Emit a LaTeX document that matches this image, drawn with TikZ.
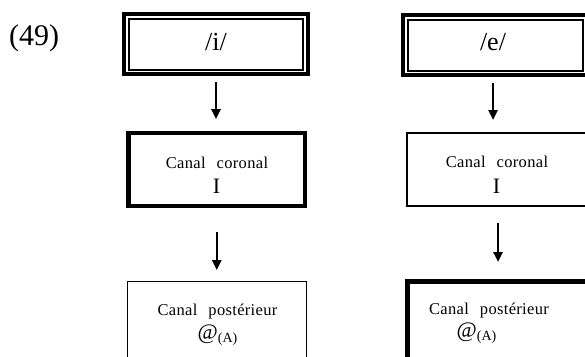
\documentclass[tikz,border=0pt]{standalone}
\usepackage{fontspec}
\setmainfont{Liberation Serif}
\usetikzlibrary{arrows.meta,calc}
\tikzset{
  box/.style={draw=black, rectangle, outer sep=0pt, inner sep=0pt},
  arr/.style={line width=2.4pt, -{Triangle[width=9pt,length=10pt]}},
  lab/.style={inner sep=0pt, anchor=base},
  small/.style={font=\fontsize{16.5}{18}\selectfont\addfontfeature{LetterSpace=2}},
  big/.style={font=\fontsize{22}{24}\selectfont},
}
\begin{document}
\begin{tikzpicture}[x=1pt,y=-1pt]
\useasboundingbox (0,0) rectangle (585,356);
\clip (0,0) rectangle (585,356);
% number
\node[lab, anchor=base west, font=\fontsize{30}{32}\selectfont] (num) at (9,45) {(49)};
% top boxes (double border)
\node[box, line width=4pt, minimum width=184pt, minimum height=60pt] (topL) at (216,44) {};
\draw[line width=1.8pt] ($(topL.north west)+(5,5)$) rectangle ($(topL.south east)+(-5,-4)$);
\node[lab, font=\fontsize{26}{28}\selectfont] (ti) at (216,50) {/i/};
\node[box, line width=4pt, minimum width=185pt, minimum height=60pt] (topR) at (495.5,45) {};
\draw[line width=1.8pt] ($(topR.north west)+(5,5)$) rectangle ($(topR.south east)+(-5,-4)$);
\node[lab, font=\fontsize{26}{28}\selectfont] (te) at (493,50) {/e/};
% middle boxes
\node[box, line width=4.5pt, minimum width=176.5pt, minimum height=73pt] (midL) at (216.75,169.5) {};
\node[lab, small] (mlA) at (217,168) {Canal\hspace{11pt}coronal};
\node[lab, big] (mlB) at (216.5,193) {I};
\node[box, line width=1.8pt, minimum width=183pt, minimum height=73pt] (midR) at (498.5,169.5) {};
\node[lab, small] (mrA) at (497,167) {Canal\hspace{11pt}coronal};
\node[lab, big] (mrB) at (496.5,193) {I};
% bottom boxes
\node[box, line width=1pt, minimum width=178.5pt, minimum height=88.5pt] (botL) at (216.75,325.75) {};
\node[lab, small] (blA) at (217.5,315) {Canal\hspace{11pt}postérieur};
\node[lab, big] (blB) at (217.5,339) {@\raisebox{-3pt}{\fontsize{14}{16}\selectfont(A)}};
\node[box, line width=5pt, minimum width=187.5pt, minimum height=89pt] (botR) at (501.25,325.5) {};
\node[lab, small] (brA) at (489,314) {Canal\hspace{11pt}postérieur};
\node[lab, big] (brB) at (476.5,337) {@\raisebox{-3pt}{\fontsize{14}{16}\selectfont(A)}};
% arrows
\draw[arr] ([yshift=-8pt]topL.south) -- ([yshift=14pt]topL.south |- midL.north);
\draw[arr] ([yshift=-26pt]midL.south) -- ([yshift=11.5pt]midL.south |- botL.north);
\draw[arr] ([xshift=-2.5pt,yshift=-8pt]topR.south) -- ([xshift=-2.5pt,yshift=13pt]topR.south |- midR.north);
\draw[arr] ([xshift=-0.5pt,yshift=-17pt]midR.south) -- ([xshift=-0.5pt,yshift=19pt]midR.south |- botR.north);
\end{tikzpicture}
\end{document}
